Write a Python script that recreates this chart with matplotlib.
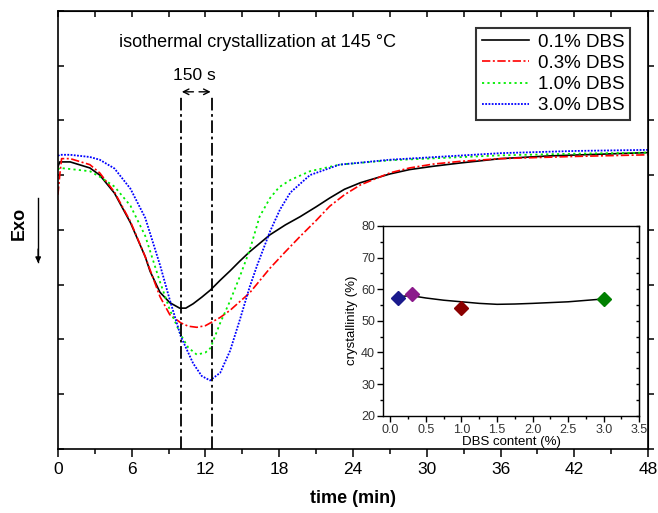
import numpy as np
import matplotlib.pyplot as plt
from matplotlib.ticker import MultipleLocator

plt.rcParams['font.family'] = ['Liberation Sans', 'DejaVu Sans']

# DSC curves (heat flow, arbitrary units)
t_01 = [0.0, 0.15, 1.0, 2.6, 3.4, 4.6, 5.9, 7.1, 7.5, 8.3, 9.1, 9.9, 10.4, 11.0, 11.7, 12.4,
        13.2, 14.0, 14.8, 15.6, 17.25, 18.5, 19.7, 21.0, 22.1, 23.3, 24.6, 27.0, 28.6, 30.5,
        32.7, 36.0, 40.0, 44.0, 48.0]
hf_01 = [5.15, 5.24, 5.24, 5.13, 5.0, 4.67, 4.13, 3.51, 3.24, 2.86, 2.67, 2.57, 2.57, 2.65, 2.77, 2.90,
         3.08, 3.25, 3.43, 3.60, 3.91, 4.09, 4.24, 4.42, 4.58, 4.74, 4.86, 5.02, 5.10, 5.16,
         5.22, 5.30, 5.35, 5.38, 5.41]

t_03 = [0.0, 0.15, 0.3, 1.0, 2.6, 3.4, 4.6, 5.9, 7.1, 8.3, 9.1, 10.0, 10.6, 11.3, 12.0, 12.4,
        13.2, 14.0, 15.6, 17.25, 18.5, 19.7, 21.0, 22.1, 23.3, 24.6, 27.0, 28.6, 30.5, 32.7,
        36.0, 42.0, 48.0]
hf_03 = [4.64, 5.0, 5.30, 5.30, 5.19, 5.04, 4.69, 4.15, 3.51, 2.78, 2.45, 2.30, 2.24, 2.22, 2.25, 2.30,
         2.40, 2.53, 2.85, 3.30, 3.60, 3.88, 4.17, 4.43, 4.64, 4.82, 5.04, 5.13, 5.20, 5.25,
         5.30, 5.34, 5.37]

t_10 = [0.0, 0.15, 1.0, 2.6, 3.4, 4.6, 5.9, 7.1, 8.3, 9.1, 10.0, 10.6, 11.3, 12.0, 12.4, 13.2,
        14.0, 14.8, 15.6, 16.4, 17.25, 18.0, 18.9, 20.5, 22.9, 27.0, 30.0, 36.0, 42.0, 48.0]
hf_10 = [5.10, 5.13, 5.11, 5.07, 4.97, 4.79, 4.44, 3.89, 3.05, 2.54, 2.08, 1.85, 1.72, 1.76, 1.84, 2.30,
         2.70, 3.15, 3.63, 4.24, 4.58, 4.78, 4.91, 5.07, 5.19, 5.27, 5.30, 5.36, 5.39, 5.41]

t_30 = [0.0, 0.15, 1.0, 2.6, 3.4, 4.6, 5.9, 7.1, 8.3, 9.1, 10.0, 11.0, 11.7, 12.37, 13.2, 14.0,
        14.8, 15.6, 16.2, 17.25, 18.06, 18.9, 20.5, 22.9, 27.0, 30.0, 36.0, 42.0, 48.0]
hf_30 = [5.35, 5.37, 5.37, 5.33, 5.28, 5.12, 4.75, 4.22, 3.36, 2.72, 2.05, 1.56, 1.33, 1.25, 1.39, 1.79,
         2.36, 2.96, 3.35, 3.97, 4.37, 4.68, 5.0, 5.19, 5.28, 5.32, 5.40, 5.44, 5.46]

# inset: crystallinity vs DBS content
dbs = [0.1, 0.3, 1.0, 3.0]
cryst = [57.2, 58.5, 54.1, 56.9]
cryst_colors = ['#1a1a8c', '#8b1a8b', '#8b0000', '#008000']
fit_x = [0.1, 0.2, 0.3, 0.5, 0.75, 1.0, 1.25, 1.5, 1.75, 2.0, 2.5, 3.0]
fit_y = [57.4, 57.8, 57.9, 57.2, 56.5, 56.0, 55.5, 55.2, 55.3, 55.5, 56.0, 56.9]

fig = plt.figure(figsize=(6.58, 5.13), dpi=100)
ax = fig.add_axes([0.088, 0.125, 0.897, 0.854])

ax.plot(t_01, hf_01, color='black', lw=1.2, label='0.1% DBS')
ax.plot(t_03, hf_03, color='red', lw=1.2, dashes=(5, 1.5, 1.2, 1.5), label='0.3% DBS')
ax.plot(t_10, hf_10, color='#00ee00', lw=1.3, dashes=(1.2, 1.8), label='1.0% DBS')
ax.plot(t_30, hf_30, color='blue', lw=1.3, dashes=(1.0, 0.8), label='3.0% DBS')

# 150 s window
for xv in [10.0, 12.5]:
    ax.plot([xv, xv], [0, 6.47], color='black', lw=1.3, dashes=(7, 2, 1.5, 2))
ax.annotate('', xy=(9.85, 6.52), xytext=(11.25, 6.52),
            arrowprops=dict(arrowstyle='->', color='black', lw=1.0))
ax.annotate('', xy=(12.65, 6.52), xytext=(11.25, 6.52),
            arrowprops=dict(arrowstyle='->', color='black', lw=1.0))
ax.text(11.1, 6.81, '150 s', ha='center', va='center', fontsize=12.5)
ax.text(16.2, 7.42, 'isothermal crystallization at 145 °C', ha='center', va='center', fontsize=13)

ax.set_xlim(0, 48)
ax.set_ylim(0, 8)
ax.xaxis.set_major_locator(MultipleLocator(6))
ax.xaxis.set_minor_locator(MultipleLocator(3))
ax.yaxis.set_major_locator(MultipleLocator(1))
ax.set_yticklabels([])
ax.tick_params(axis='x', which='major', direction='out', length=6, width=1.1, labelsize=12.5)
ax.tick_params(axis='x', which='minor', direction='out', length=3.5, width=1.1)
ax.tick_params(axis='y', direction='in', length=4, width=1.1)
for s in ax.spines.values():
    s.set_linewidth(1.2)

# top and right ticks
axt = ax.secondary_xaxis('top')
axt.xaxis.set_major_locator(MultipleLocator(3))
axt.tick_params(direction='in', length=4, width=1.1, labeltop=False)
axr = ax.secondary_yaxis('right')
axr.yaxis.set_major_locator(MultipleLocator(1))
axr.tick_params(direction='out', length=4, width=1.1, labelright=False)

ax.set_xlabel('time (min)', fontsize=13, fontweight='bold')
ax.xaxis.set_label_coords(0.5, -0.095)

fig.text(0.03, 0.565, 'Exo', rotation=90, fontsize=13, fontweight='bold', ha='center', va='center')
fig.add_artist(plt.Line2D([0.058, 0.058], [0.615, 0.49], color='black', lw=1.0))
ax.annotate('', xy=(0.058, 0.482), xytext=(0.058, 0.52), xycoords='figure fraction',
            arrowprops=dict(arrowstyle='-|>', color='black', lw=1.0, mutation_scale=8))

leg = ax.legend(loc='upper right', bbox_to_anchor=(0.9695, 0.961), fontsize=13.5, frameon=True,
                fancybox=False, edgecolor='black', handlelength=2.5, borderpad=0.3,
                labelspacing=0.22, handletextpad=0.5, borderaxespad=0)
leg.get_frame().set_linewidth(1.5)

# inset
ins = fig.add_axes([0.5825, 0.1897, 0.389, 0.370])
ins.plot(fit_x, fit_y, color='black', lw=1.1, zorder=2)
for xv, yv, c in zip(dbs, cryst, cryst_colors):
    ins.plot(xv, yv, marker='D', color=c, markersize=7, zorder=3)
ins.set_xlim(-0.1, 3.5)
ins.set_ylim(20, 80)
ins.xaxis.set_minor_locator(MultipleLocator(0.25))
ins.yaxis.set_major_locator(MultipleLocator(10))
ins.yaxis.set_minor_locator(MultipleLocator(5))
ins.set_xticks(np.arange(0, 3.51, 0.5))
ins.set_xticklabels(['%.1f' % v for v in np.arange(0, 3.51, 0.5)])
ins.tick_params(which='major', direction='out', length=4, width=1.0, labelsize=9,
                colors='black', labelcolor='#333333', pad=2)
ins.tick_params(which='minor', direction='out', length=2.5, width=1.0)
ins.set_xlabel('DBS content (%)', fontsize=9.5, labelpad=0)
ins.set_ylabel('crystallinity (%)', fontsize=9.5, labelpad=2)
insr = ins.secondary_yaxis('right')
insr.yaxis.set_major_locator(MultipleLocator(10))
insr.yaxis.set_minor_locator(MultipleLocator(5))
insr.tick_params(which='both', direction='in', length=2.5, width=1.0, labelright=False)
for s in ins.spines.values():
    s.set_linewidth(1.0)

plt.savefig('out.png', dpi=100)
